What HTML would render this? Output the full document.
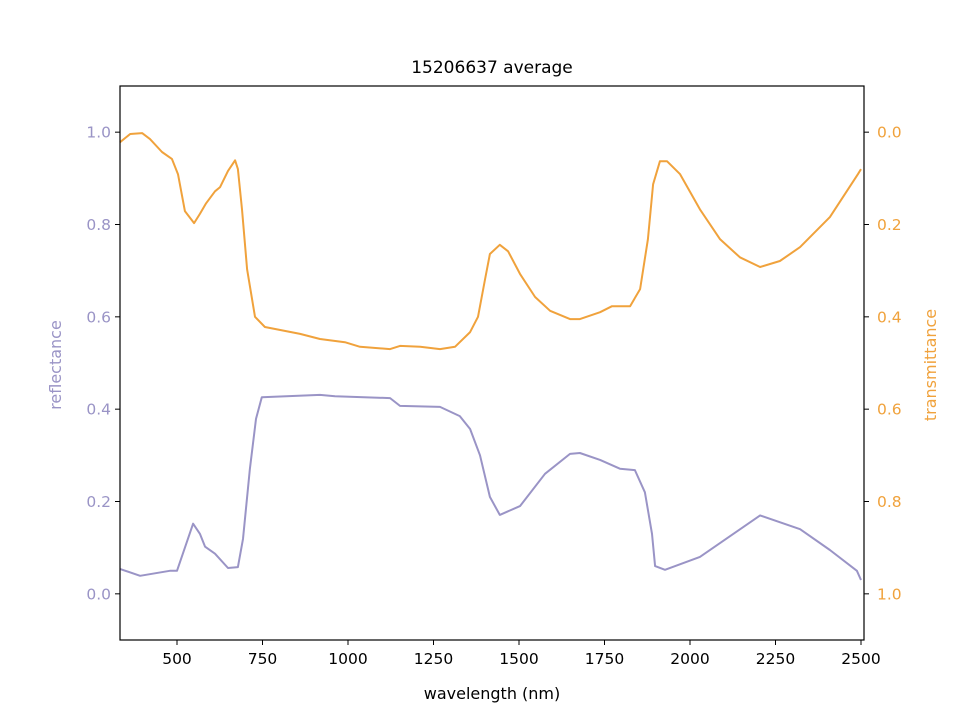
<!DOCTYPE html>
<html><head><meta charset="utf-8">
<style>body{margin:0;background:#fff}svg text{font-family:"DejaVu Sans","Liberation Sans",sans-serif}</style>
</head><body>
<svg id="chart" width="960" height="720" viewBox="0 0 960 720" xmlns="http://www.w3.org/2000/svg">
<rect width="960" height="720" fill="#fff"/>
<text x="492" y="73" font-size="17" text-anchor="middle" fill="#000">15206637 average</text>
<g id="plot"></g>
<rect x="120" y="86" width="744" height="554" fill="none" stroke="#000" stroke-width="1.2"/>
<text x="492" y="699" font-size="16" text-anchor="middle">wavelength (nm)</text>
<text transform="translate(61,365) rotate(-90)" font-size="16" text-anchor="middle" fill="#9a94c6">reflectance</text>
<text transform="translate(936,365) rotate(-90)" font-size="16" text-anchor="middle" fill="#f0a23c">transmittance</text>
</svg>
<script>
const xTicks=[500,750,1000,1250,1500,1750,2000,2250,2500];
const leftTicks=[0.0,0.2,0.4,0.6,0.8,1.0];
const rightTicks=[0.0,0.2,0.4,0.6,0.8,1.0];
const reflWl=[333,392,479,500,523,547,567,582,611,649,678,693,713,731,748,918,962,1123,1152,1269,1327,1357,1386,1415,1444,1503,1576,1649,1678,1737,1795,1839,1868,1889,1898,1927,2029,2205,2322,2409,2488,2500];
const reflVal=[0.054,0.039,0.050,0.050,0.100,0.152,0.130,0.102,0.087,0.056,0.058,0.119,0.271,0.379,0.426,0.431,0.428,0.424,0.407,0.405,0.385,0.357,0.300,0.210,0.171,0.190,0.260,0.303,0.305,0.290,0.271,0.268,0.220,0.130,0.060,0.052,0.080,0.170,0.140,0.095,0.050,0.030];
const transWl=[333,363,398,421,456,485,503,523,550,567,585,611,626,649,670,678,690,705,728,757,860,918,991,1035,1123,1152,1211,1269,1313,1357,1380,1401,1415,1444,1468,1503,1547,1591,1649,1678,1737,1772,1825,1854,1877,1892,1912,1933,1971,2029,2088,2146,2205,2263,2322,2409,2491,2500];
const transVal=[0.022,0.004,0.002,0.015,0.043,0.058,0.091,0.171,0.197,0.177,0.154,0.128,0.119,0.084,0.061,0.080,0.167,0.297,0.400,0.422,0.437,0.448,0.455,0.465,0.470,0.463,0.465,0.470,0.465,0.433,0.400,0.318,0.264,0.244,0.258,0.307,0.357,0.387,0.405,0.405,0.390,0.377,0.377,0.340,0.232,0.113,0.063,0.063,0.091,0.167,0.232,0.271,0.292,0.279,0.249,0.184,0.091,0.080];
const X0=333.3,X1=2508.8,PL=120,PR=864,PT=86,PB=640;
function xs(v){return PL+(v-X0)/(X1-X0)*(PR-PL);}
function yl(v){return PB-(v+0.1)/1.2*(PB-PT);}
function yr(v){return PT+(v+0.1)/1.2*(PB-PT);}
const NS='http://www.w3.org/2000/svg';
const g=document.getElementById('plot');
function mk(t,a,p){const e=document.createElementNS(NS,t);for(const k in a)e.setAttribute(k,a[k]);(p||g).appendChild(e);return e;}
xTicks.forEach(v=>{const x=xs(v);
 const l=mk('line',{x1:x,x2:x,y1:640,y2:645,stroke:'#000'});
 
 
 const t=mk('text',{x:x,y:664,'font-size':15.5,'text-anchor':'middle'});t.textContent=v;
 
 });
leftTicks.forEach(v=>{const y=yl(v);
 const l=mk('line',{x1:115,x2:120,y1:y,y2:y,stroke:'#000'});
 
 
 const t=mk('text',{x:111,y:y+5.5,'font-size':15.5,'text-anchor':'end',fill:'#9a94c6'});t.textContent=v.toFixed(1);
 
 });
rightTicks.forEach(v=>{const y=yr(v);
 const l=mk('line',{x1:864,x2:869,y1:y,y2:y,stroke:'#000'});
 
 
 const t=mk('text',{x:877,y:y+5.5,'font-size':15.5,'text-anchor':'start',fill:'#f0a23c'});t.textContent=v.toFixed(1);
 
 });
const p1=mk('path',{d:reflWl.map((w,i)=>(i?'L':'M')+xs(w).toFixed(1)+','+yl(reflVal[i]).toFixed(1)).join(''),fill:'none',stroke:'#9a94c6','stroke-width':2,'stroke-linejoin':'round'});


const p2=mk('path',{d:transWl.map((w,i)=>(i?'L':'M')+xs(w).toFixed(1)+','+yr(transVal[i]).toFixed(1)).join(''),fill:'none',stroke:'#f0a23c','stroke-width':2,'stroke-linejoin':'round'});


</script>
</body></html>
